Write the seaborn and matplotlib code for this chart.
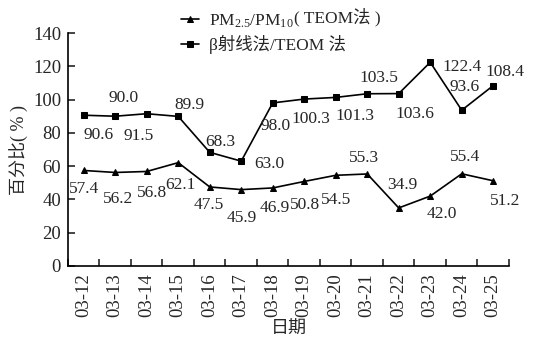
import numpy as np
import pandas as pd
import seaborn as sns
import matplotlib.pyplot as plt

dates = ["03-12", "03-13", "03-14", "03-15", "03-16", "03-17", "03-18",
         "03-19", "03-20", "03-21", "03-22", "03-23", "03-24", "03-25"]
pm_ratio = [57.4, 56.2, 56.8, 62.1, 47.5, 45.9, 46.9, 50.8, 54.5, 55.3,
            34.9, 42.0, 55.4, 51.2]
beta_ratio = [90.6, 90.0, 91.5, 89.9, 68.3, 63.0, 98.0, 100.3, 101.3, 103.5,
              103.6, 122.4, 93.6, 108.4]
series_names = ["PM$_{2.5}$/PM$_{10}$", "β射线法/TEOM 法"]

# where each value label sits relative to its point (pixels)
pm_offsets = [(0, -19), (3, -27), (5, -22), (2, -22), (-1, -18), (1, -28),
              (2, -20), (1, -24), (0, -25), (-3, 16), (4, 23), (12, -18),
              (3, 17), (12, -20)]
beta_offsets = [(15, -20), (8, 18), (-8, -22), (11, 11), (11, 10), (28, -3),
                (3, -23), (7, -20), (19, -19), (12, 16), (16, -20), (32, -5),
                (3, 23), (12, 14)]

sns.set_style("ticks")
plt.rcParams["font.family"] = ["Liberation Serif", "Noto Sans CJK SC"]
plt.rcParams["mathtext.fontset"] = "custom"
plt.rcParams["mathtext.rm"] = "Liberation Serif"
plt.rcParams["mathtext.it"] = "Liberation Serif"
plt.rcParams["axes.edgecolor"] = "black"
plt.rcParams["axes.linewidth"] = 1.2

df = pd.DataFrame({
    "date": dates * 2,
    "value": pm_ratio + beta_ratio,
    "series": [series_names[0]] * len(dates) + [series_names[1]] * len(dates),
})

fig = plt.figure(figsize=(5.46, 3.5), dpi=100)
ax = fig.add_axes([0.1245, 0.24, 0.8077, 0.6657])

sns.lineplot(data=df, x="date", y="value", hue="series", style="series",
             markers=["^", "s"], dashes=False, palette=["black", "black"],
             markersize=5, linewidth=1.2, markeredgecolor="black", ax=ax)

for vals, offs in [(pm_ratio, pm_offsets), (beta_ratio, beta_offsets)]:
    for i, (v, o) in enumerate(zip(vals, offs)):
        ax.annotate(f"{v:.1f}", (i, v), xytext=o, textcoords="offset pixels",
                    ha="center", va="center", fontsize=12.5)

ax.set_xlim(-0.5, len(dates) - 0.5)
ax.set_ylim(0, 140)
ax.set_yticks(range(0, 141, 20))
ax.set_xticks(range(len(dates)))
ax.set_xticklabels(dates, rotation=90)
ax.set_xticks(np.arange(-0.5, len(dates), 1), minor=True)
ax.tick_params(axis="x", which="major", length=0, pad=5, labelsize=13.5)
ax.tick_params(axis="x", which="minor", direction="in", length=5, width=1.2)
ax.tick_params(axis="y", direction="in", length=5, width=1.2, pad=5,
               labelsize=13.5)
sns.despine(ax=ax)

ax.set_xlabel("日期", fontsize=13)
ax.set_ylabel("百分比( % )", fontsize=13)
ax.xaxis.set_label_coords(0.5, -0.235)
ax.yaxis.set_label_coords(-0.09, 0.5)

handles, labels = ax.get_legend_handles_labels()
leg = ax.legend(handles, labels, loc="upper left",
                bbox_to_anchor=(0.31, 1.0), bbox_transform=fig.transFigure,
                frameon=False, fontsize=12.5, handlelength=1.0,
                handletextpad=0.6, labelspacing=0.3, borderpad=0.2)
ax.annotate("( TEOM法 )", xy=(1, 0), xycoords=leg.get_texts()[0],
            xytext=(0, 2), textcoords="offset points", va="bottom",
            ha="left", fontsize=12.5, zorder=10)

fig.savefig("out.png", dpi=100)
